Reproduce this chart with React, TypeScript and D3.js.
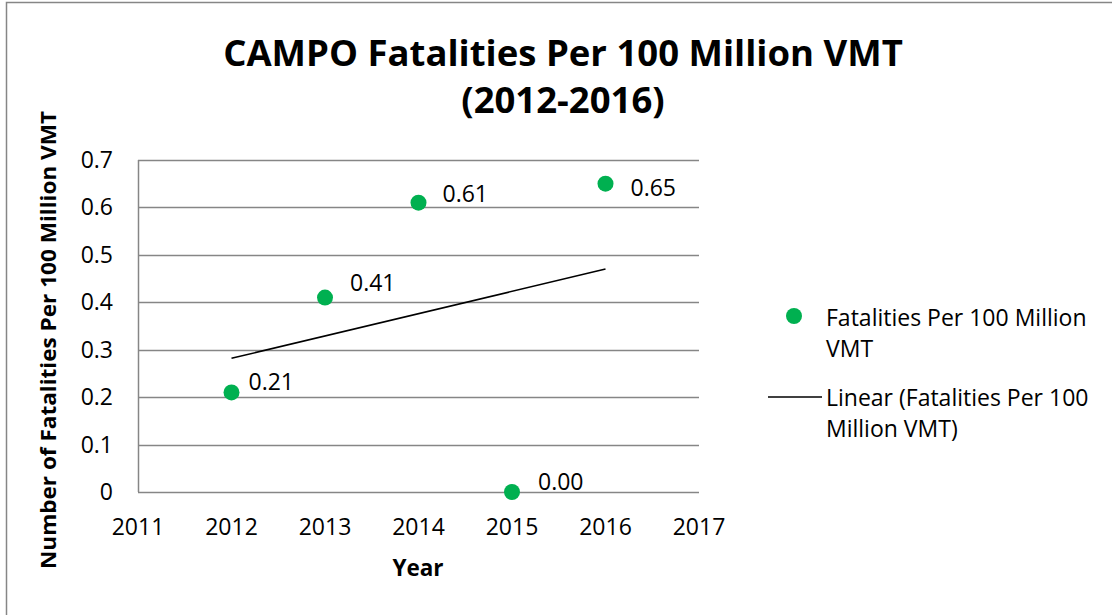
import { useEffect, useRef } from 'react'
import * as d3 from 'd3'

// Data
const years = [2012, 2013, 2014, 2015, 2016]
const fatalities = [0.21, 0.41, 0.61, 0.0, 0.65]
const xTicks = [2011, 2012, 2013, 2014, 2015, 2016, 2017]
const yTicks = [0, 0.1, 0.2, 0.3, 0.4, 0.5, 0.6, 0.7]
const titleLines = ['CAMPO Fatalities Per 100 Million VMT', '(2012-2016)']
const legendSeries = ['Fatalities Per 100 Million', 'VMT']
const legendTrend = ['Linear (Fatalities Per 100', 'Million VMT)']

const FONT = '"Open Sans", Lato, sans-serif'
const GREEN = '#00b050'
const FS = 23

export default function App() {
  const svgRef = useRef<SVGSVGElement | null>(null)

  useEffect(() => {
    if (!svgRef.current) return
    const width = 1112
    const height = 615

    const svg = d3.select(svgRef.current)
    svg.selectAll('*').remove()
    svg.attr('width', width).attr('height', height)

    svg.append('rect')
      .attr('width', width).attr('height', height)
      .attr('fill', '#fff')

    // outer frame (runs off the right/bottom of the picture)
    svg.append('rect')
      .attr('x', 6.5).attr('y', 2.5)
      .attr('width', width + 20).attr('height', height + 20)
      .attr('fill', 'none')
      .attr('stroke', '#868686')
      .attr('stroke-width', 1.5)

    const x = d3.scaleLinear().domain([2011, 2017]).range([138, 699])
    const y = d3.scaleLinear().domain([0, 0.7]).range([492, 160])

    // title
    svg.append('text')
      .attr('text-anchor', 'middle')
      .attr('font-family', FONT)
      .attr('font-weight', 'bold')
      .attr('font-size', 36.5)
      .attr('fill', '#000')
      .selectAll('tspan')
      .data(titleLines)
      .enter().append('tspan')
      .attr('x', 563)
      .attr('y', (_, i) => 66 + i * 47)
      .text(d => d)

    // gridlines
    svg.append('g')
      .selectAll('line')
      .data(yTicks)
      .enter().append('line')
      .attr('x1', x(2011)).attr('x2', x(2017))
      .attr('y1', d => Math.round(y(d)) + 0.5).attr('y2', d => Math.round(y(d)) + 0.5)
      .attr('stroke', '#868686')
      .attr('stroke-width', 1.5)

    // y axis line
    svg.append('line')
      .attr('x1', x(2011) + 0.5).attr('x2', x(2011) + 0.5)
      .attr('y1', y(0.7)).attr('y2', y(0))
      .attr('stroke', '#868686')
      .attr('stroke-width', 1.5)

    // y tick labels
    svg.append('g')
      .selectAll('text')
      .data(yTicks)
      .enter().append('text')
      .attr('x', 113)
      .attr('y', d => y(d) + 8)
      .attr('text-anchor', 'end')
      .attr('font-family', FONT)
      .attr('font-size', FS)
      .attr('fill', '#000')
      .text(d => (d === 0 ? '0' : d.toFixed(1)))

    // x tick labels
    svg.append('g')
      .selectAll('text')
      .data(xTicks)
      .enter().append('text')
      .attr('x', d => x(d))
      .attr('y', 535)
      .attr('text-anchor', 'middle')
      .attr('font-family', FONT)
      .attr('font-size', FS)
      .attr('fill', '#000')
      .text(d => String(d))

    // axis titles
    svg.append('text')
      .attr('x', 418).attr('y', 576)
      .attr('text-anchor', 'middle')
      .attr('font-family', FONT)
      .attr('font-weight', 'bold')
      .attr('font-size', 22.5)
      .text('Year')

    svg.append('text')
      .attr('transform', 'translate(56,340) rotate(-90)')
      .attr('text-anchor', 'middle')
      .attr('font-family', FONT)
      .attr('font-weight', 'bold')
      .attr('font-size', 21)
      .attr('textLength', 458)
      .attr('lengthAdjust', 'spacingAndGlyphs')
      .text('Number of Fatalities Per 100 Million VMT')

    // linear trendline (least squares fit of the series)
    const mx = d3.mean(years) as number
    const my = d3.mean(fatalities) as number
    const sxy = d3.sum(years, (v, i) => (v - mx) * (fatalities[i] - my))
    const sxx = d3.sum(years, v => (v - mx) ** 2)
    const slope = sxy / sxx
    const fit = (v: number) => my + slope * (v - mx)
    const x0 = years[0]
    const x1 = years[years.length - 1]

    svg.append('path')
      .datum([x0, x1])
      .attr('d', d3.line<number>().x(d => x(d)).y(d => y(fit(d))))
      .attr('stroke', '#000')
      .attr('stroke-width', 1.5)
      .attr('fill', 'none')

    // points
    svg.append('g')
      .selectAll('circle')
      .data(years)
      .enter().append('circle')
      .attr('cx', d => x(d))
      .attr('cy', (_, i) => y(fatalities[i]))
      .attr('r', 8)
      .attr('fill', GREEN)

    // data labels (nudged like the original)
    const labelShift = [[17, -2], [25, -7], [24, -1], [26, -2], [25, 12]]
    svg.append('g')
      .selectAll('text')
      .data(years)
      .enter().append('text')
      .attr('x', (d, i) => x(d) + labelShift[i][0])
      .attr('y', (_, i) => y(fatalities[i]) + labelShift[i][1])
      .attr('font-family', FONT)
      .attr('font-size', FS)
      .attr('fill', '#000')
      .text((_, i) => fatalities[i].toFixed(2))

    // legend
    const lg = svg.append('g')
    lg.append('circle')
      .attr('cx', 794).attr('cy', 316).attr('r', 8).attr('fill', GREEN)
    lg.append('text')
      .attr('font-family', FONT).attr('font-size', FS)
      .selectAll('tspan')
      .data(legendSeries)
      .enter().append('tspan')
      .attr('x', 826).attr('y', (_, i) => 326 + i * 31)
      .text(d => d)
    lg.append('line')
      .attr('x1', 768).attr('x2', 822)
      .attr('y1', 397).attr('y2', 397)
      .attr('stroke', '#000').attr('stroke-width', 1.5)
    lg.append('text')
      .attr('font-family', FONT).attr('font-size', FS)
      .selectAll('tspan')
      .data(legendTrend)
      .enter().append('tspan')
      .attr('x', 826).attr('y', (_, i) => 406 + i * 31)
      .text(d => d)
  }, [])

  return (
    <div style={{ position: 'absolute', left: 0, top: 0 }}>
      <svg ref={svgRef} style={{ display: 'block' }} />
    </div>
  )
}
